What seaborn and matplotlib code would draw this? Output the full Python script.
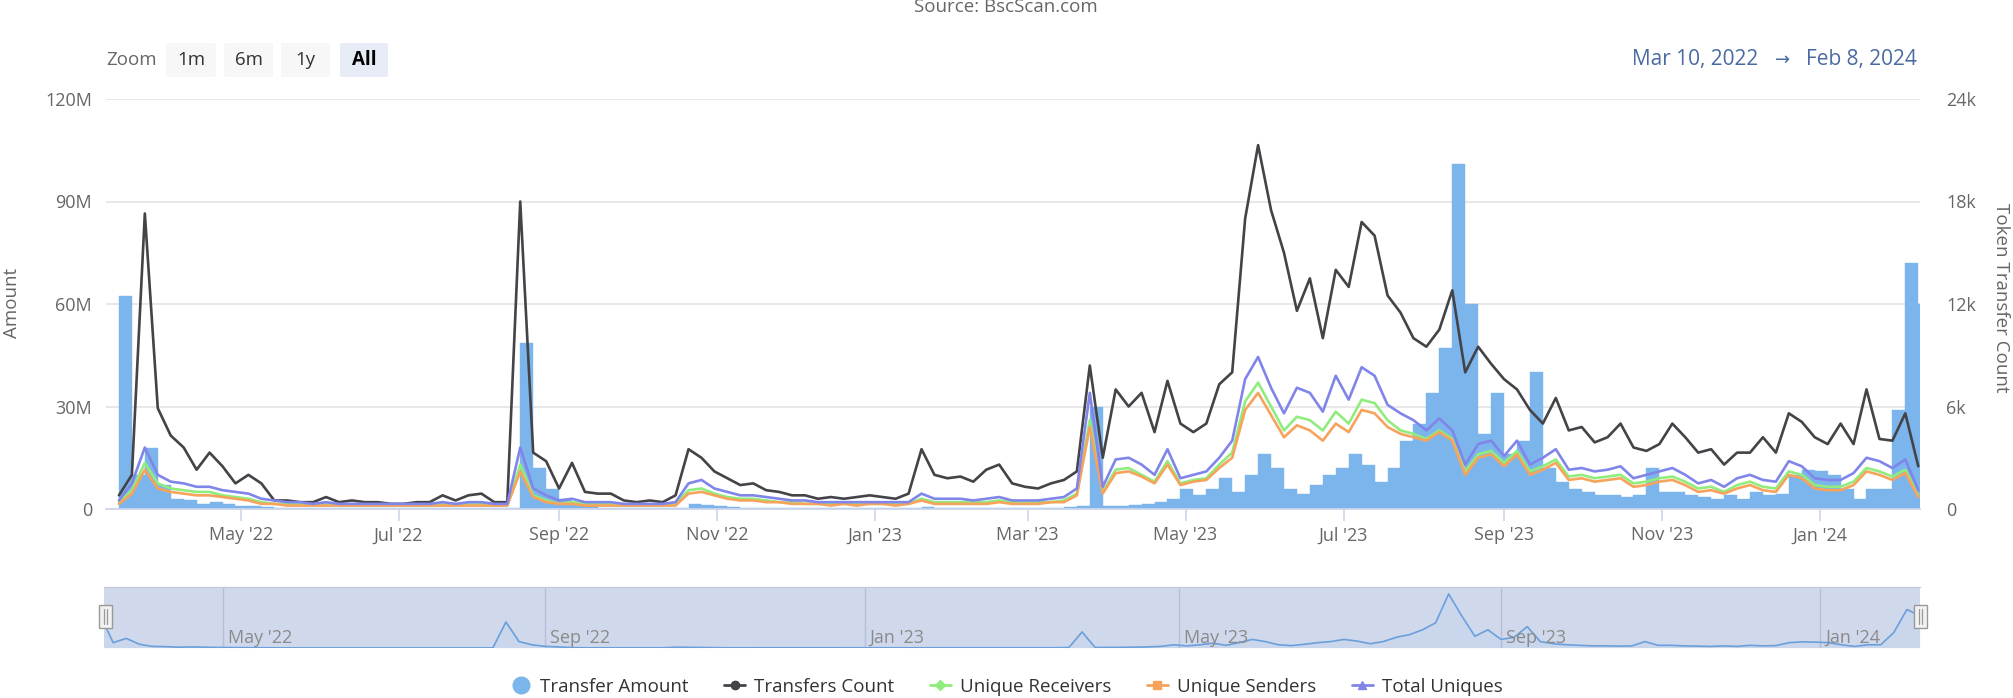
import numpy as np
import pandas as pd
import matplotlib
matplotlib.use("Agg")
import matplotlib.pyplot as plt
import matplotlib.dates as mdates
import matplotlib.transforms as mtransforms
from matplotlib.lines import Line2D
from matplotlib.patches import FancyBboxPatch, Rectangle
import seaborn as sns

# ---------------- data (5-day samples) ----------------
dates = pd.date_range("2022-03-15", periods=140, freq="5D")

transfer_amount_m = [
    62.3, 10.0, 18.0, 7.0, 3.0, 2.5, 1.5, 2.0, 1.5, 1.0,
    0.8, 0.5, 0.3, 0.3, 0.2, 0.2, 0.3, 0.2, 0.2, 0.2,
    0.2, 0.2, 0.2, 0.2, 0.2, 0.3, 0.2, 0.3, 0.3, 0.2,
    0.2, 48.6, 12.0, 6.0, 3.0, 2.0, 0.8, 0.4, 0.4, 0.3,
    0.3, 0.3, 0.3, 0.4, 1.5, 1.2, 0.8, 0.5, 0.4, 0.4,
    0.3, 0.3, 0.3, 0.3, 0.3, 0.3, 0.3, 0.3, 0.3, 0.3,
    0.3, 0.3, 0.6, 0.4, 0.4, 0.4, 0.4, 0.4, 0.4, 0.4,
    0.4, 0.4, 0.4, 0.5, 1.0, 30.0, 1.0, 1.0, 1.2, 1.5,
    2.0, 3.0, 6.0, 4.0, 6.0, 9.0, 5.0, 10.0, 16.0, 12.0,
    6.0, 4.5, 7.0, 10.0, 12.0, 16.0, 13.0, 8.0, 12.0, 20.0,
    25.0, 34.0, 47.0, 101.0, 60.0, 22.0, 34.0, 16.0, 20.0, 40.0,
    12.0, 8.0, 6.0, 5.0, 4.0, 4.0, 3.5, 4.0, 12.0, 5.0,
    5.0, 4.0, 3.5, 3.0, 4.0, 3.0, 5.0, 4.0, 4.5, 10.0,
    11.5, 11.0, 10.0, 6.0, 3.0, 6.0, 6.0, 29.0, 72.0, 60.0,
]

transfers_count_k = [
    0.8, 2.0, 17.3, 5.9, 4.3, 3.6, 2.3, 3.3, 2.5, 1.5,
    2.0, 1.5, 0.5, 0.5, 0.4, 0.4, 0.7, 0.4, 0.5, 0.4,
    0.4, 0.3, 0.3, 0.4, 0.4, 0.8, 0.5, 0.8, 0.9, 0.4,
    0.4, 18.0, 3.3, 2.8, 1.2, 2.7, 1.0, 0.9, 0.9, 0.5,
    0.4, 0.5, 0.4, 0.8, 3.5, 3.0, 2.2, 1.8, 1.4, 1.5,
    1.1, 1.0, 0.8, 0.8, 0.6, 0.7, 0.6, 0.7, 0.8, 0.7,
    0.6, 0.9, 3.5, 2.0, 1.8, 1.9, 1.6, 2.3, 2.6, 1.5,
    1.3, 1.2, 1.5, 1.7, 2.2, 8.4, 3.0, 7.0, 6.0, 6.8,
    4.5, 7.5, 5.0, 4.5, 5.0, 7.3, 8.0, 17.0, 21.3, 17.5,
    15.0, 11.6, 13.5, 10.0, 14.0, 13.0, 16.8, 16.0, 12.5, 11.5,
    10.0, 9.5, 10.5, 12.8, 8.0, 9.5, 8.5, 7.6, 7.0, 5.8,
    5.0, 6.5, 4.6, 4.8, 3.9, 4.2, 5.0, 3.6, 3.4, 3.8,
    5.0, 4.2, 3.3, 3.5, 2.6, 3.3, 3.3, 4.2, 3.3, 5.6,
    5.1, 4.2, 3.8, 5.0, 3.8, 7.0, 4.1, 4.0, 5.6, 2.5,
]

unique_receivers_k = [
    0.4, 1.1, 2.7, 1.5, 1.2, 1.1, 1.0, 1.0, 0.8, 0.7,
    0.6, 0.4, 0.3, 0.3, 0.3, 0.2, 0.3, 0.2, 0.2, 0.2,
    0.2, 0.2, 0.2, 0.2, 0.2, 0.3, 0.2, 0.3, 0.3, 0.2,
    0.2, 2.6, 0.8, 0.5, 0.3, 0.4, 0.3, 0.3, 0.3, 0.2,
    0.2, 0.2, 0.2, 0.3, 1.1, 1.2, 0.9, 0.7, 0.6, 0.6,
    0.5, 0.4, 0.4, 0.3, 0.3, 0.3, 0.3, 0.3, 0.3, 0.3,
    0.3, 0.3, 0.6, 0.4, 0.4, 0.4, 0.4, 0.4, 0.5, 0.4,
    0.4, 0.4, 0.4, 0.5, 0.9, 5.2, 1.0, 2.3, 2.4, 2.0,
    1.6, 2.8, 1.5, 1.7, 1.8, 2.6, 3.3, 6.3, 7.4, 6.0,
    4.6, 5.4, 5.2, 4.6, 5.7, 5.0, 6.4, 6.2, 5.2, 4.6,
    4.4, 4.1, 4.6, 4.1, 2.2, 3.2, 3.4, 2.7, 3.4, 2.2,
    2.5, 2.9, 1.9, 2.0, 1.8, 1.9, 2.0, 1.5, 1.6, 1.8,
    1.9, 1.6, 1.2, 1.3, 1.0, 1.4, 1.6, 1.3, 1.2, 2.2,
    2.0, 1.4, 1.3, 1.3, 1.6, 2.4, 2.2, 1.9, 2.3, 0.8,
]

unique_senders_k = [
    0.3, 0.9, 2.3, 1.2, 1.0, 0.9, 0.8, 0.8, 0.7, 0.6,
    0.5, 0.3, 0.3, 0.2, 0.2, 0.2, 0.2, 0.2, 0.2, 0.2,
    0.2, 0.2, 0.2, 0.2, 0.2, 0.2, 0.2, 0.2, 0.2, 0.2,
    0.2, 2.2, 0.7, 0.4, 0.3, 0.3, 0.2, 0.2, 0.2, 0.2,
    0.2, 0.2, 0.2, 0.2, 0.9, 1.0, 0.8, 0.6, 0.5, 0.5,
    0.4, 0.4, 0.3, 0.3, 0.3, 0.2, 0.3, 0.2, 0.3, 0.3,
    0.2, 0.3, 0.5, 0.3, 0.3, 0.3, 0.3, 0.3, 0.4, 0.3,
    0.3, 0.3, 0.4, 0.4, 0.8, 4.8, 0.9, 2.1, 2.2, 1.9,
    1.5, 2.6, 1.4, 1.6, 1.7, 2.4, 3.0, 5.8, 6.8, 5.5,
    4.2, 4.9, 4.6, 4.0, 5.0, 4.5, 5.8, 5.6, 4.8, 4.4,
    4.2, 4.0, 4.5, 4.0, 2.0, 3.0, 3.2, 2.5, 3.2, 2.0,
    2.3, 2.7, 1.7, 1.8, 1.6, 1.7, 1.8, 1.3, 1.4, 1.6,
    1.7, 1.4, 1.0, 1.1, 0.9, 1.2, 1.4, 1.1, 1.0, 2.0,
    1.8, 1.2, 1.1, 1.1, 1.4, 2.2, 2.0, 1.7, 2.1, 0.7,
]

total_uniques_k = [
    0.5, 1.5, 3.6, 2.0, 1.6, 1.5, 1.3, 1.3, 1.1, 1.0,
    0.9, 0.6, 0.5, 0.4, 0.4, 0.3, 0.4, 0.3, 0.3, 0.3,
    0.3, 0.3, 0.3, 0.3, 0.3, 0.4, 0.3, 0.4, 0.4, 0.3,
    0.3, 3.6, 1.2, 0.8, 0.5, 0.6, 0.4, 0.4, 0.4, 0.3,
    0.3, 0.3, 0.3, 0.4, 1.5, 1.7, 1.2, 1.0, 0.8, 0.8,
    0.7, 0.6, 0.5, 0.5, 0.4, 0.4, 0.4, 0.4, 0.4, 0.4,
    0.4, 0.4, 0.9, 0.6, 0.6, 0.6, 0.5, 0.6, 0.7, 0.5,
    0.5, 0.5, 0.6, 0.7, 1.2, 6.8, 1.3, 2.9, 3.0, 2.6,
    2.0, 3.5, 1.8, 2.0, 2.2, 3.0, 4.0, 7.6, 8.9, 7.1,
    5.6, 7.1, 6.8, 5.7, 7.8, 6.4, 8.3, 7.8, 6.1, 5.6,
    5.2, 4.6, 5.3, 4.6, 2.6, 3.8, 4.0, 3.1, 4.0, 2.6,
    3.0, 3.5, 2.3, 2.4, 2.2, 2.3, 2.5, 1.8, 2.0, 2.2,
    2.4, 2.0, 1.5, 1.7, 1.3, 1.8, 2.0, 1.7, 1.6, 2.8,
    2.5, 1.8, 1.7, 1.7, 2.1, 3.0, 2.8, 2.4, 2.9, 1.1,
]

left_ticks = [0, 30, 60, 90, 120]
left_tick_labels = ["0", "30M", "60M", "90M", "120M"]
right_ticks = [0, 6, 12, 18, 24]
right_tick_labels = ["0", "6k", "12k", "18k", "24k"]
legend_labels = ["Transfer Amount", "Transfers Count", "Unique Receivers",
                 "Unique Senders", "Total Uniques"]

df = pd.DataFrame({
    "date": dates,
    "amount": np.array(transfer_amount_m) * 1e6,
    "count": np.array(transfers_count_k) * 1e3,
    "receivers": np.array(unique_receivers_k) * 1e3,
    "senders": np.array(unique_senders_k) * 1e3,
    "uniques": np.array(total_uniques_k) * 1e3,
})

# ---------------- style ----------------
sns.set_theme(style="white")
plt.rcParams["font.family"] = ["Open Sans", "DejaVu Sans"]

C_BAR = "#7cb5ec"
C_COUNT = "#434348"
C_RECV = "#90ed7d"
C_SEND = "#f7a35c"
C_UNIQ = "#8085e9"
GRAY = "#666666"

W, H = 2013, 698
fig = plt.figure(figsize=(W / 100, H / 100), dpi=100)


def fx(px):
    return px / W


def fy(py):
    return 1 - py / H


# ---------------- main chart ----------------
ax = fig.add_axes([fx(106), fy(509), fx(1920) - fx(106), fy(99) - fy(509)])
ax2 = ax.twinx()

ax.bar(df["date"], df["amount"], width=5, align="edge", color=C_BAR,
       edgecolor=C_BAR, linewidth=0.3, zorder=2)

lw = 1.9
sns.lineplot(data=df, x="date", y="count", ax=ax2, color=C_COUNT, linewidth=lw, legend=False)
sns.lineplot(data=df, x="date", y="receivers", ax=ax2, color=C_RECV, linewidth=lw, legend=False)
sns.lineplot(data=df, x="date", y="senders", ax=ax2, color=C_SEND, linewidth=lw, legend=False)
sns.lineplot(data=df, x="date", y="uniques", ax=ax2, color=C_UNIQ, linewidth=lw, legend=False)

xmin = pd.Timestamp("2022-03-10")
xmax = pd.Timestamp("2024-02-08 16:00")
ax.set_xlim(xmin, xmax)
ax.set_ylim(0, 120e6)
ax2.set_ylim(0, 24e3)

ax.set_yticks([v * 1e6 for v in left_ticks])
ax.set_yticklabels(left_tick_labels)
ax2.set_yticks([v * 1e3 for v in right_ticks])
ax2.set_yticklabels(right_tick_labels)

ax.yaxis.grid(True, color="#e6e6e6", linewidth=1.3)
ax.xaxis.grid(False)
ax2.grid(False)
ax.set_axisbelow(True)

for s in ["top", "left", "right"]:
    ax.spines[s].set_visible(False)
    ax2.spines[s].set_visible(False)
ax2.spines["bottom"].set_visible(False)
ax.spines["bottom"].set_color("#ccd6eb")
ax.spines["bottom"].set_linewidth(1.3)

ax.xaxis.set_major_locator(mdates.MonthLocator(bymonth=(1, 3, 5, 7, 9, 11)))
ax.xaxis.set_major_formatter(mdates.DateFormatter("%b '%y"))
ax.tick_params(axis="x", length=8.5, width=1.2, color="#ccd6eb", pad=4,
               labelsize=13, labelcolor=GRAY, bottom=True)
ax.tick_params(axis="y", length=0, pad=10, labelsize=13, labelcolor=GRAY)
ax2.tick_params(axis="y", length=0, pad=19, labelsize=13, labelcolor=GRAY)
ax.set_xlabel("")
ax.set_ylabel("")
ax2.set_xlabel("")
ax2.set_ylabel("")

fig.text(fx(12), fy(303), "Amount", rotation=90, ha="center", va="center",
         fontsize=13.5, color=GRAY)
fig.text(fx(2001), fy(298), "Token Transfer Count", rotation=270, ha="center",
         va="center", fontsize=13.5, color=GRAY)

# ---------------- title (cut at top) and range selector ----------------
fig.text(fx(1006), fy(12), "Source: BscScan.com", ha="center", va="baseline",
         fontsize=13.5, color=GRAY)

fig.text(fx(106), fy(60), "Zoom", ha="left", va="center", fontsize=13.5, color=GRAY)
buttons = [("1m", 166, 216, False), ("6m", 224, 273, False),
           ("1y", 281, 330, False), ("All", 340, 388, True)]
for label, x0, x1, sel in buttons:
    patch = FancyBboxPatch((fx(x0), fy(77)), fx(x1) - fx(x0), fy(43) - fy(77),
                           boxstyle="round,pad=0,rounding_size=0.002",
                           transform=fig.transFigure,
                           facecolor="#e6ebf5" if sel else "#f7f7f7",
                           edgecolor="none")
    fig.add_artist(patch)
    fig.text(fx((x0 + x1) / 2), fy(60), label, ha="center", va="center",
             fontsize=13.5, color="#000000" if sel else "#333333",
             fontweight="bold" if sel else "normal")

fig.text(fx(1758), fy(60), "Mar 10, 2022", ha="right", va="center",
         fontsize=15, color="#4a6aa3")
fig.text(fx(1783), fy(60), "\u2192", ha="center", va="center",
         fontsize=13, color="#4a6aa3", family=["DejaVu Sans"])
fig.text(fx(1806), fy(60), "Feb 8, 2024", ha="left", va="center",
         fontsize=15, color="#4a6aa3")

# ---------------- navigator ----------------
axn = fig.add_axes([fx(104), fy(648), fx(1920) - fx(104), fy(587) - fy(648)])
axn.set_facecolor("#d0d9ec")
sns.lineplot(data=df, x="date", y="amount", ax=axn, color="#6a9fdb",
             linewidth=1.2, legend=False)
axn.fill_between(df["date"], df["amount"], color=C_BAR, alpha=0.08, linewidth=0)
axn.set_xlim(pd.Timestamp("2022-03-16 12:00"), pd.Timestamp("2024-02-08"))
axn.set_ylim(0, 114e6)
axn.set_yticks([])
axn.set_xlabel("")
axn.set_ylabel("")
nav_loc = mdates.MonthLocator(bymonth=(1, 5, 9))
axn.xaxis.set_major_locator(nav_loc)
axn.tick_params(axis="x", length=0, labelbottom=False)
axn.xaxis.grid(True, color="#b4bfd6", linewidth=1.0)
axn.yaxis.grid(False)
for s in ["left", "right", "bottom"]:
    axn.spines[s].set_visible(False)
axn.spines["top"].set_color("#c4ccdc")
axn.spines["top"].set_linewidth(1.0)

trans = mtransforms.blended_transform_factory(axn.transData, axn.transAxes)
trans = mtransforms.offset_copy(trans, fig=fig, x=5, y=0, units="dots")
for t in nav_loc.tick_values(pd.Timestamp("2022-03-16"), pd.Timestamp("2024-02-08")):
    d = mdates.num2date(t)
    if pd.Timestamp("2022-03-16", tz=d.tzinfo) <= d <= pd.Timestamp("2024-02-08", tz=d.tzinfo):
        axn.text(t, 0.17, d.strftime("%b '%y"), transform=trans, ha="left",
                 va="center", fontsize=13, color="#8a8a8a")

for hx in (99, 1914):
    fig.add_artist(Rectangle((fx(hx), fy(628)), fx(hx + 13) - fx(hx), fy(605) - fy(628),
                             transform=fig.transFigure, facecolor="#f2f2f2",
                             edgecolor="#999999", linewidth=1.0))
    for lx in (hx + 5, hx + 8):
        fig.add_artist(Line2D([fx(lx), fx(lx)], [fy(624), fy(609)],
                              transform=fig.transFigure, color="#999999", linewidth=0.9))

# ---------------- legend ----------------
handles = [
    Line2D([], [], ls="none", marker="o", ms=12, mfc=C_BAR, mec=C_BAR),
    Line2D([], [], color=C_COUNT, lw=2, marker="o", ms=6),
    Line2D([], [], color=C_RECV, lw=2, marker="D", ms=5),
    Line2D([], [], color=C_SEND, lw=2, marker="s", ms=5.5),
    Line2D([], [], color=C_UNIQ, lw=2, marker="^", ms=6),
]
fig.legend(handles, legend_labels, loc="center", bbox_to_anchor=(0.5, fy(687)),
           ncol=5, frameon=False, fontsize=13.5, handlelength=1.1,
           handletextpad=0.5, columnspacing=1.9, labelcolor="#333333")

fig.savefig("out.png", dpi=100)
